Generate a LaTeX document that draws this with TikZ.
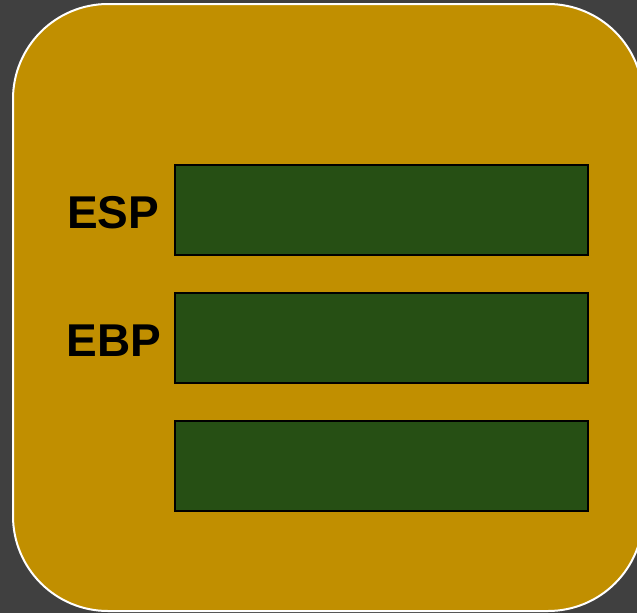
\documentclass[tikz,border=0pt]{standalone}
\usepackage{fontspec}
\setmainfont{Liberation Sans}
\definecolor{bgc}{HTML}{404040}
\definecolor{goldc}{HTML}{C18F00}
\definecolor{greenc}{HTML}{264F14}
\begin{document}
\begin{tikzpicture}[x=1pt,y=-1pt,
  slot/.style={draw=black,line width=1.6pt,fill=greenc,minimum width=413pt,minimum height=90pt,inner sep=0pt,anchor=north west},
  reglabel/.style={font=\fontsize{46}{50}\selectfont\bfseries,text=black,inner sep=0pt,anchor=east}]
\fill[bgc] (0,0) rectangle (637,613);
\useasboundingbox (0,0) rectangle (637,613);
\draw[white,line width=2pt,fill=goldc,rounded corners=95pt] (13,4) rectangle (643,611);
\node[slot] (s1) at (174,164) {};
\node[slot] (s2) at (174,292) {};
\node[slot] (s3) at (174,420) {};
\node[reglabel] (esp) at (159.5,213) {ESP};
\node[reglabel] (ebp) at (161.5,341) {EBP};
\end{tikzpicture}
\end{document}
